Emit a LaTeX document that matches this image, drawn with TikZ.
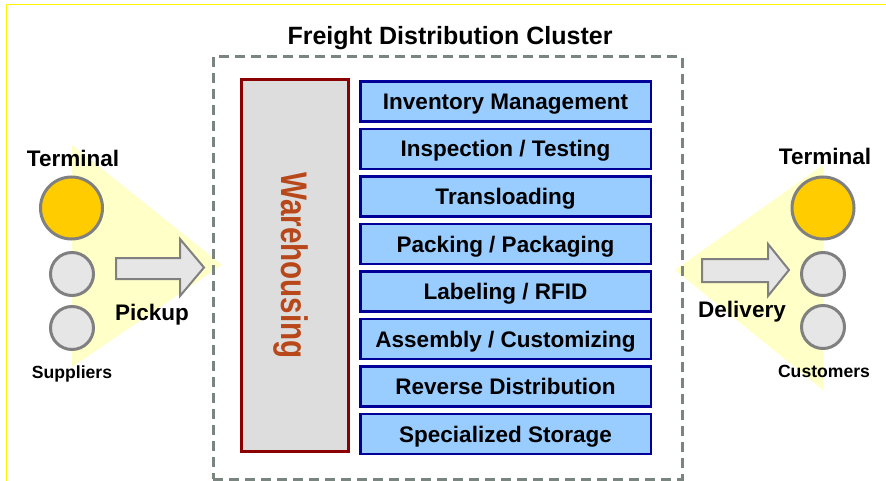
\documentclass[tikz,border=0pt]{standalone}
\usepackage{fontspec}
\setmainfont{Liberation Sans}
\newfontfamily\narrowfont[FakeStretch=0.8]{Liberation Sans}
\usetikzlibrary{chains,
                positioning}
\definecolor{servicefill}{HTML}{99CCFF}
\definecolor{servicedraw}{HTML}{000099}
\definecolor{whfill}{HTML}{DDDDDD}
\definecolor{whdraw}{HTML}{8B0000}
\definecolor{whtext}{HTML}{B8471A}
\definecolor{termfill}{HTML}{FFCC00}
\definecolor{stopfill}{HTML}{E6E6E6}
\definecolor{ringdraw}{HTML}{808080}
\definecolor{funnel}{HTML}{FFFFC8}
\definecolor{clusterdash}{HTML}{7A8580}
\tikzset{
   service/.style = {draw=servicedraw, fill=servicefill, line width=2.5pt,
                     minimum width=290.5pt, minimum height=40pt, inner sep=0pt,
                     text height=16pt, text depth=0pt,
                     font=\fontsize{22.5}{24}\selectfont\bfseries},
     store/.style = {draw=whdraw, fill=whfill, line width=3pt, rotate=-90,
                     minimum width=372pt, minimum height=107pt, inner sep=0pt,
                     text=whtext, text height=26.5pt, text depth=0pt,
                     font=\fontsize{37}{40}\narrowfont\bfseries},
  terminal/.style = {circle, draw=ringdraw, fill=termfill, line width=3pt,
                     minimum size=62pt, inner sep=0pt},
      stop/.style = {circle, draw=ringdraw, fill=stopfill, line width=3pt,
                     minimum size=43pt, inner sep=0pt},
       lbl/.style = {anchor=base, inner sep=0pt,
                     font=\fontsize{22.5}{24}\selectfont\bfseries},
  smalllbl/.style = {anchor=base, inner sep=0pt,
                     font=\fontsize{17.6}{20}\selectfont\bfseries},
}

\begin{document}
\begin{tikzpicture}[x=1pt, y=-1pt,
        blockarrow/.style={draw=ringdraw, fill=stopfill, line width=2pt, line join=miter},
        cluster/.style={draw=clusterdash, line width=3pt, dash pattern=on 10pt off 6pt,
                        minimum width=469pt, minimum height=422pt, inner sep=0pt},
        node distance=5pt,
        start chain=going below,
      ]
  \useasboundingbox (0,0) rectangle (886,481);
  \draw[yellow, line width=1.5pt] (6.7,481) -- (6.7,4.5) -- (886,4.5);

  % funnels behind the terminals
  \fill[funnel] (72,145) -- (222,265) -- (72,367) -- cycle;
  \fill[funnel] (823,165) -- (675,270) -- (823,390) -- cycle;

  \node[anchor=base, inner sep=0pt, font=\fontsize{25}{30}\selectfont\bfseries] (title) at (450,45) {Freight Distribution Cluster};
  \node[cluster] (C) at (447.5,268) {};

  \node[store] (W) at (295,265.5) {Warehousing};

  \node[service,on chain] (A) at (505.5,101.5) {Inventory Management};
  \node[service,on chain] (B) {Inspection / Testing};
  \node[service,on chain] (D) {Transloading};
  \node[service,on chain] (E) {Packing / Packaging};
  \node[service,on chain] (F) {Labeling / RFID};
  \node[service,on chain] (G) {Assembly / Customizing};
  \node[service,on chain] (H) {Reverse Distribution};
  \node[service,on chain] (I) {Specialized Storage};

  % supply side
  \node[terminal] (tL) at (71.5,208) {};
  \node[stop] (sL1) at (72,274) {};
  \node[stop] (sL2) at (72,328) {};
  \node[lbl] (termL) at (73,167) {Terminal};
  \node[lbl] (pick) at (152,320) {Pickup};
  \node[smalllbl] (supp) at (72,378) {Suppliers};
  \draw[blockarrow] (116,258) -- (180,258) -- (180,239) -- (204,267.5)
        -- (180,296) -- (180,279) -- (116,279) -- cycle;

  % delivery side
  \node[terminal] (tR) at (823,208) {};
  \node[stop] (cR1) at (823,274) {};
  \node[stop] (cR2) at (823,327) {};
  \node[lbl] (termR) at (825,165) {Terminal};
  \node[lbl] (deliv) at (742,317) {Delivery};
  \node[smalllbl] (cust) at (824,377) {Customers};
  \draw[blockarrow] (702,259) -- (768,259) -- (768,244) -- (789,270)
        -- (768,296) -- (768,282) -- (702,282) -- cycle;
\end{tikzpicture}
\end{document}
